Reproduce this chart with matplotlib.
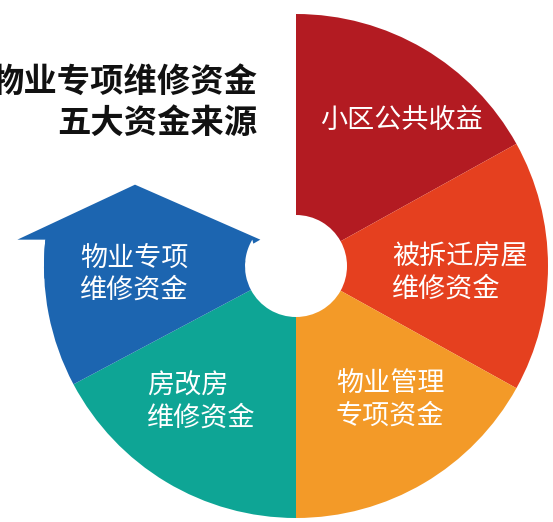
import numpy as np
import matplotlib
matplotlib.use("Agg")
import matplotlib.pyplot as plt
from matplotlib.patches import Polygon

plt.rcParams['font.family'] = ['Noto Sans CJK SC', 'DejaVu Sans']

# Data: five funding sources, each drawn as a ring segment (span in degrees)
categories = ["小区公共收益", "被拆迁房屋\n维修资金", "物业管理\n专项资金", "房改房\n维修资金", "物业专项\n维修资金"]
spans_deg = [61, 58, 61, 62, 34]
colors = ["#b31b22", "#e5401f", "#f39a28", "#0ea595", "#1c65b0"]
title_lines = ["物业专项维修资金", "五大资金来源"]

W, H = 553, 522
fig = plt.figure(figsize=(W / 100, H / 100), dpi=100)
ax = fig.add_axes([0, 0, 1, 1])

cx, cy = 296, 256
R_out, R_in = 252, 51

fracs = [s / 360 for s in spans_deg]
wedges, _ = ax.pie(fracs, normalize=False, startangle=90, counterclock=False,
                   colors=colors, radius=R_out, center=(cx, cy),
                   wedgeprops=dict(width=R_out - R_in, edgecolor='none', linewidth=0))

ax.set_xlim(0, W)
ax.set_ylim(0, H)
ax.set_aspect('equal', adjustable='box')
ax.axis('off')

# Arrow head on top of the last (blue) segment
blue_end = 90 - sum(spans_deg)  # angle in degrees where blue segment ends
y_sh = R_out * np.sin(np.radians(blue_end))  # shoulder height above centre
a_out = np.pi - np.arcsin(y_sh / R_out)
a_in = np.pi - np.arcsin(y_sh / R_in)
t_out = np.linspace(np.pi + 0.05, a_out, 20)
t_in = np.linspace(a_in, np.pi + 0.05, 20)
pts = [(cx + R_out * np.cos(t), cy + R_out * np.sin(t)) for t in t_out]
pts += [(cx + R_out * np.cos(a_out) - 28, cy + y_sh),
        (cx - 161, cy + y_sh + 55),
        (cx + R_in * np.cos(a_in) + 8, cy + y_sh),
        (cx + R_in * np.cos(a_in) + 1, cy + y_sh - 4)]
pts += [(cx + R_in * np.cos(t), cy + R_in * np.sin(t)) for t in t_in]
head = Polygon(pts, closed=True, facecolor=colors[4], edgecolor='none')
ax.add_patch(head)

# Labels
lab_pos = [(402, 402, 'center'), (392, 249, 'left'), (390, 122, 'center'),
           (147, 120, 'left'), (80, 248, 'left')]
for txt, (x, y, ha) in zip(categories, lab_pos):
    ax.text(x, y, txt, color='white', fontsize=19.5, ha=ha, va='center',
            linespacing=1.25)

# Title
ax.text(257, H - 82, title_lines[0], fontsize=24, fontweight='heavy',
        ha='right', va='center', color='#111111')
ax.text(257, H - 123, title_lines[1], fontsize=24, fontweight='heavy',
        ha='right', va='center', color='#111111')

fig.savefig('out.png', dpi=100, facecolor='white')
